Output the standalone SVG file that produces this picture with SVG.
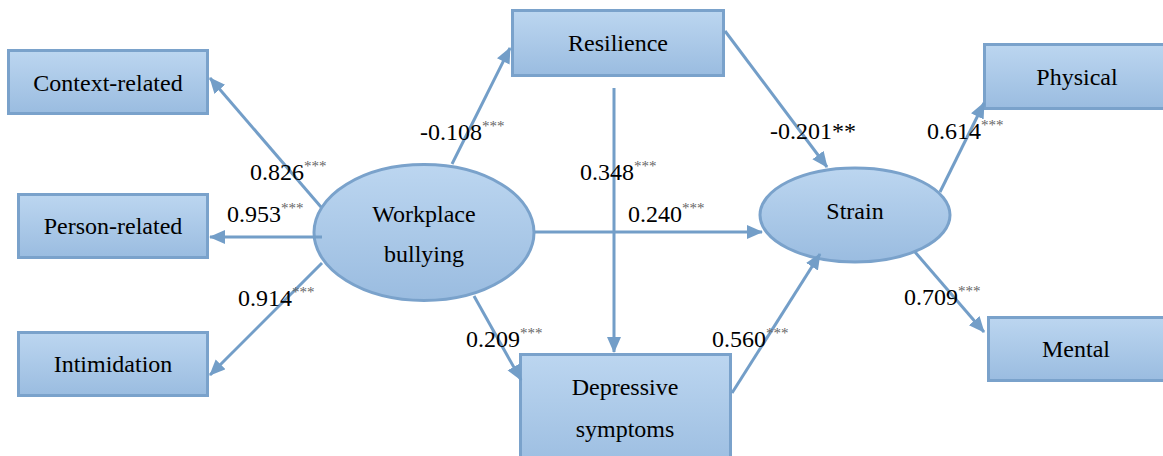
<svg xmlns="http://www.w3.org/2000/svg" width="1163" height="456" viewBox="0 0 1163 456">
<defs>
<linearGradient id="g" x1="0" y1="0" x2="0" y2="1">
<stop offset="0" stop-color="#bcd6f0"/>
<stop offset="1" stop-color="#9abce0"/>
</linearGradient>
<marker id="ah" markerUnits="userSpaceOnUse" markerWidth="18" markerHeight="16" refX="15" refY="7" orient="auto">
<path d="M0,0 L16,7 L0,14 z" fill="#739ec8"/>
</marker>
<style>
.box{fill:url(#g);stroke:#7aa2cb;stroke-width:3}
.t{font-family:"Liberation Serif",serif;font-size:24px;fill:#000;text-anchor:middle}
.l{font-family:"Liberation Serif",serif;font-size:24px;fill:#000}
.s{font-size:15px;fill:#666}
.c{fill:none;stroke:#739ec8;stroke-width:3;marker-end:url(#ah)}
</style>
</defs>
<rect width="1163" height="456" fill="#fff"/>
<g id="context-related"><rect class="box" x="8.5" y="50.5" width="199" height="63"/><text class="t" x="108" y="91">Context-related</text></g>
<g id="person-related"><rect class="box" x="18.5" y="194.5" width="189" height="63"/><text class="t" x="113" y="234">Person-related</text></g>
<g id="intimidation"><rect class="box" x="18.5" y="332.5" width="189" height="63"/><text class="t" x="113" y="372">Intimidation</text></g>
<g id="workplace-bullying"><ellipse class="box" cx="424" cy="232.5" rx="110" ry="68"/><text class="t" x="424" y="222">Workplace</text><text class="t" x="424" y="262">bullying</text></g>
<g id="resilience"><rect class="box" x="512.5" y="10.5" width="211" height="65"/><text class="t" x="618" y="51">Resilience</text></g>
<g id="depressive-symptoms"><rect class="box" x="520.5" y="354.5" width="210" height="120"/><text class="t" x="625" y="395">Depressive</text><text class="t" x="625" y="437">symptoms</text></g>
<g id="strain"><ellipse class="box" cx="855" cy="215" rx="95" ry="47"/><text class="t" x="855" y="219">Strain</text></g>
<g id="physical"><rect class="box" x="984.5" y="44.5" width="200" height="64"/><text class="t" x="1077" y="85">Physical</text></g>
<g id="mental"><rect class="box" x="988.5" y="317.5" width="200" height="63"/><text class="t" x="1076" y="357">Mental</text></g>
<g id="connectors">
<line class="c" x1="321" y1="207" x2="210" y2="78"/>
<line class="c" x1="322" y1="237" x2="210" y2="237"/>
<line class="c" x1="322" y1="263" x2="210" y2="375"/>
<line class="c" x1="452" y1="164" x2="510" y2="48"/>
<line class="c" x1="725" y1="31" x2="827" y2="167"/>
<line class="c" x1="614" y1="88" x2="614" y2="352"/>
<line class="c" x1="535" y1="232" x2="762" y2="232"/>
<line class="c" x1="474" y1="296" x2="521" y2="380"/>
<line class="c" x1="732" y1="393" x2="820" y2="254"/>
<line class="c" x1="940" y1="192" x2="984" y2="103"/>
<line class="c" x1="915" y1="252" x2="984" y2="332"/>
</g>
<g id="labels">
<text class="l" x="250" y="180">0.826<tspan class="s" dy="-9">***</tspan></text>
<text class="l" x="227" y="222">0.953<tspan class="s" dy="-9">***</tspan></text>
<text class="l" x="238" y="306">0.914<tspan class="s" dy="-9">***</tspan></text>
<text class="l" x="420" y="140">-0.108<tspan class="s" dy="-9">***</tspan></text>
<text class="l" x="580" y="180">0.348<tspan class="s" dy="-9">***</tspan></text>
<text class="l" x="770" y="139">-0.201**</text>
<text class="l" x="628" y="222">0.240<tspan class="s" dy="-9">***</tspan></text>
<text class="l" x="466" y="347">0.209<tspan class="s" dy="-9">***</tspan></text>
<text class="l" x="712" y="347">0.560<tspan class="s" dy="-9">***</tspan></text>
<text class="l" x="927" y="139">0.614<tspan class="s" dy="-9">***</tspan></text>
<text class="l" x="904" y="305">0.709<tspan class="s" dy="-9">***</tspan></text>
</g>
</svg>
